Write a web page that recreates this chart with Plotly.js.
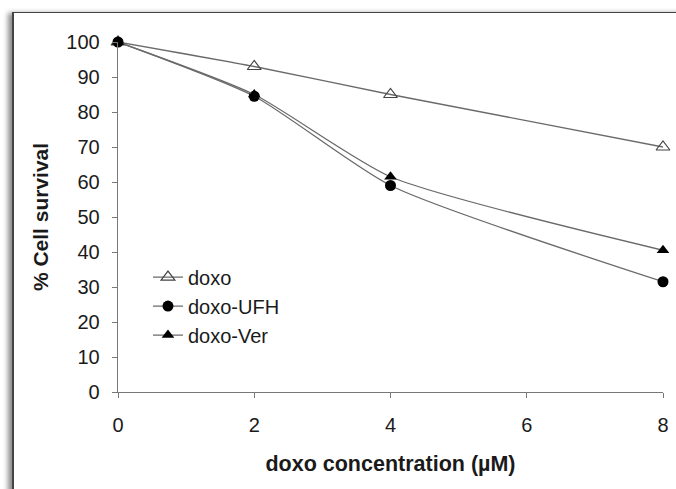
<!DOCTYPE html>
<html><head><meta charset="utf-8">
<script src="https://cdn.plot.ly/plotly-3.0.1.min.js"></script>
<style>
html,body{margin:0;padding:0;width:676px;height:489px;overflow:hidden;background:#fff;}
#frame{position:absolute;left:12px;top:12px;width:720px;height:520px;border-top:1.5px solid #444;border-left:2px solid #444;box-shadow:-4px 1px 5px rgba(0,0,0,0.45);background:#fff;}
#chart{position:absolute;left:0;top:0;width:676px;height:489px;}
</style></head>
<body>
<div id="frame"></div>
<div id="chart"></div>
<script>
const concentration = [0, 2, 4, 8];
const doxo = [100, 93, 85, 70];
const doxoUFH = [100, 84.5, 59, 31.5];
const doxoVer = [100, 85, 61.5, 40.5];
const xTicks = [0, 2, 4, 6, 8];
const yTicks = [0, 10, 20, 30, 40, 50, 60, 70, 80, 90, 100];

const lineStyle = {color: '#6a6a6a', width: 1.3, shape: 'spline', smoothing: 0.6};
const traces = [
  {x: concentration, y: doxo, name: 'doxo', mode: 'lines+markers', line: lineStyle,
   marker: {symbol: 'triangle-up-open', size: 12, color: '#444', line: {width: 1.2, color: '#444'}},
   legendgroup: 'a', cliponaxis: false},
  {x: concentration, y: doxoUFH, name: 'doxo-UFH', mode: 'lines+markers', line: lineStyle,
   marker: {symbol: 'circle', size: 11, color: '#000'}, legendgroup: 'b', cliponaxis: false},
  {x: concentration, y: doxoVer, name: 'doxo-Ver', mode: 'lines+markers', line: lineStyle,
   marker: {symbol: 'triangle-up', size: 11, color: '#000'}, legendgroup: 'c', cliponaxis: false}
];
const fontFam = 'Liberation Sans, Arial, sans-serif';
const layout = {
  width: 676, height: 489,
  margin: {l: 118, r: 13, t: 42, b: 97},
  paper_bgcolor: 'rgba(0,0,0,0)', plot_bgcolor: 'rgba(0,0,0,0)',
  font: {family: fontFam, size: 20, color: '#1a1a1a'},
  showlegend: true,
  legend: {x: 0.055, y: 0.384, xanchor: 'left', yanchor: 'top', bgcolor: 'rgba(0,0,0,0)',
           font: {size: 20, family: fontFam, color: '#1a1a1a'}, tracegroupgap: 0, traceorder: 'grouped', itemwidth: 30},
  xaxis: {range: [0, 8], tickvals: xTicks, ticks: 'outside', ticklen: 5, tickcolor: '#777',
          showline: true, linecolor: '#777', linewidth: 1.3, showgrid: false, zeroline: false,
          tickfont: {size: 20}, ticklabelstandoff: 10,
          title: {text: '<b>doxo concentration (µM)</b>', font: {size: 21.5}, standoff: 20}},
  yaxis: {range: [0, 100], tickvals: yTicks, ticks: 'outside', ticklen: 5, tickcolor: '#777',
          showline: true, linecolor: '#777', linewidth: 1.3, showgrid: false, zeroline: false,
          tickfont: {size: 20}, ticklabelstandoff: 8,
          title: {text: '<b>% Cell survival</b>', font: {size: 21}, standoff: 12}}
};
Plotly.newPlot('chart', traces, layout, {displayModeBar: false, staticPlot: true});
</script>
</body></html>
